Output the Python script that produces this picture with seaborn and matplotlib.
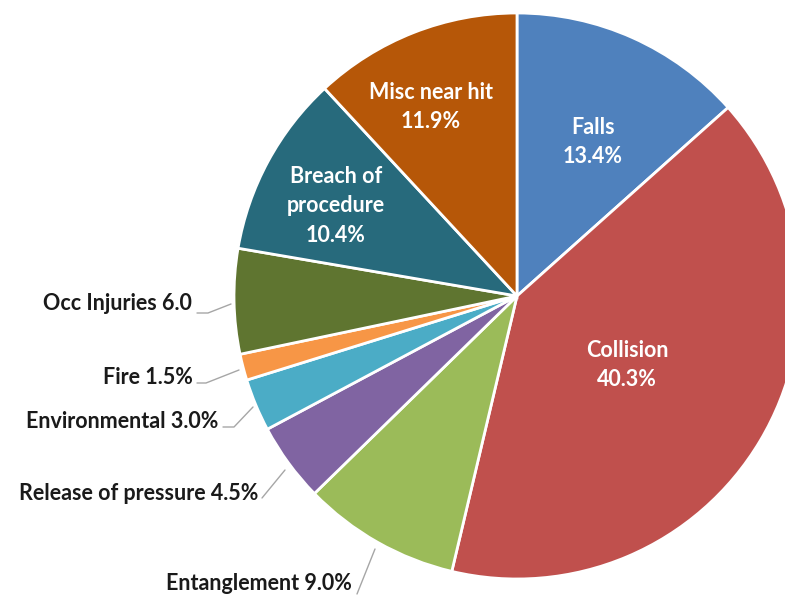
import matplotlib
matplotlib.use("Agg")
import matplotlib.pyplot as plt
import seaborn as sns

# data
categories = ["Falls", "Collision", "Entanglement", "Release of pressure", "Environmental",
              "Fire", "Occ Injuries", "Breach of procedure", "Misc near hit"]
shares = [13.4, 40.3, 9.0, 4.5, 3.0, 1.5, 6.0, 10.4, 11.9]
colors = ["#4F81BD", "#C0504D", "#9BBB59", "#8064A2", "#4BACC6",
          "#F79646", "#5F7530", "#276A7C", "#B65708"]

W, H = 785, 595

sns.set_theme(style="white")
plt.rcParams['font.family'] = ['Lato', 'DejaVu Sans']

fig = plt.figure(figsize=(W / 100, H / 100), dpi=100)
ax = fig.add_axes([0, 0, 1, 1])

pal = sns.color_palette(colors)
ax.pie(shares, colors=pal, startangle=90, counterclock=False,
       center=(517, H - 296), radius=283, frame=True,
       wedgeprops={'linewidth': 2, 'edgecolor': 'white'})
ax.set_xlim(0, W)
ax.set_ylim(0, H)
ax.set_aspect('equal')
ax.axis('off')

# labels inside the big slices (pixel positions from top)
inside = {"Falls": (593, 142, "Falls\n{:.1f}%"),
          "Collision": (627, 365, "Collision\n{:.1f}%"),
          "Breach of procedure": (336, 206, "Breach of\nprocedure\n{:.1f}%"),
          "Misc near hit": (431, 107, "Misc near hit\n{:.1f}%")}
for name, (x, y, fmt) in inside.items():
    v = shares[categories.index(name)]
    ax.text(x, H - y, fmt.format(v), ha='center', va='center', color='white',
            fontsize=15.5, fontweight='bold', linespacing=1.5)

# outside labels with leader lines
outside = {"Occ Injuries": ((192, 303), [(197, 313), (208, 313), (231, 304)], "{} {:.1f}"),
           "Fire": ((193, 377), [(197, 383), (206, 383), (239, 370)], "{} {:.1f}%"),
           "Environmental": ((218, 421), [(223, 427), (234, 427), (253, 407)], "{} {:.1f}%"),
           "Release of pressure": ((258, 494), [(262, 498), (285, 470)], "{} {:.1f}%"),
           "Entanglement": ((352, 583), [(357, 594), (375, 549)], "{} {:.1f}%")}
for name, ((tx, ty), pts, fmt) in outside.items():
    v = shares[categories.index(name)]
    ax.text(tx, H - ty, fmt.format(name, v), ha='right', va='center', color='#1a1a1a',
            fontsize=15.5, fontweight='bold')
    ax.plot([p[0] for p in pts], [H - p[1] for p in pts], color='#A6A6A6', lw=1)

fig.savefig("out.png", dpi=100)
